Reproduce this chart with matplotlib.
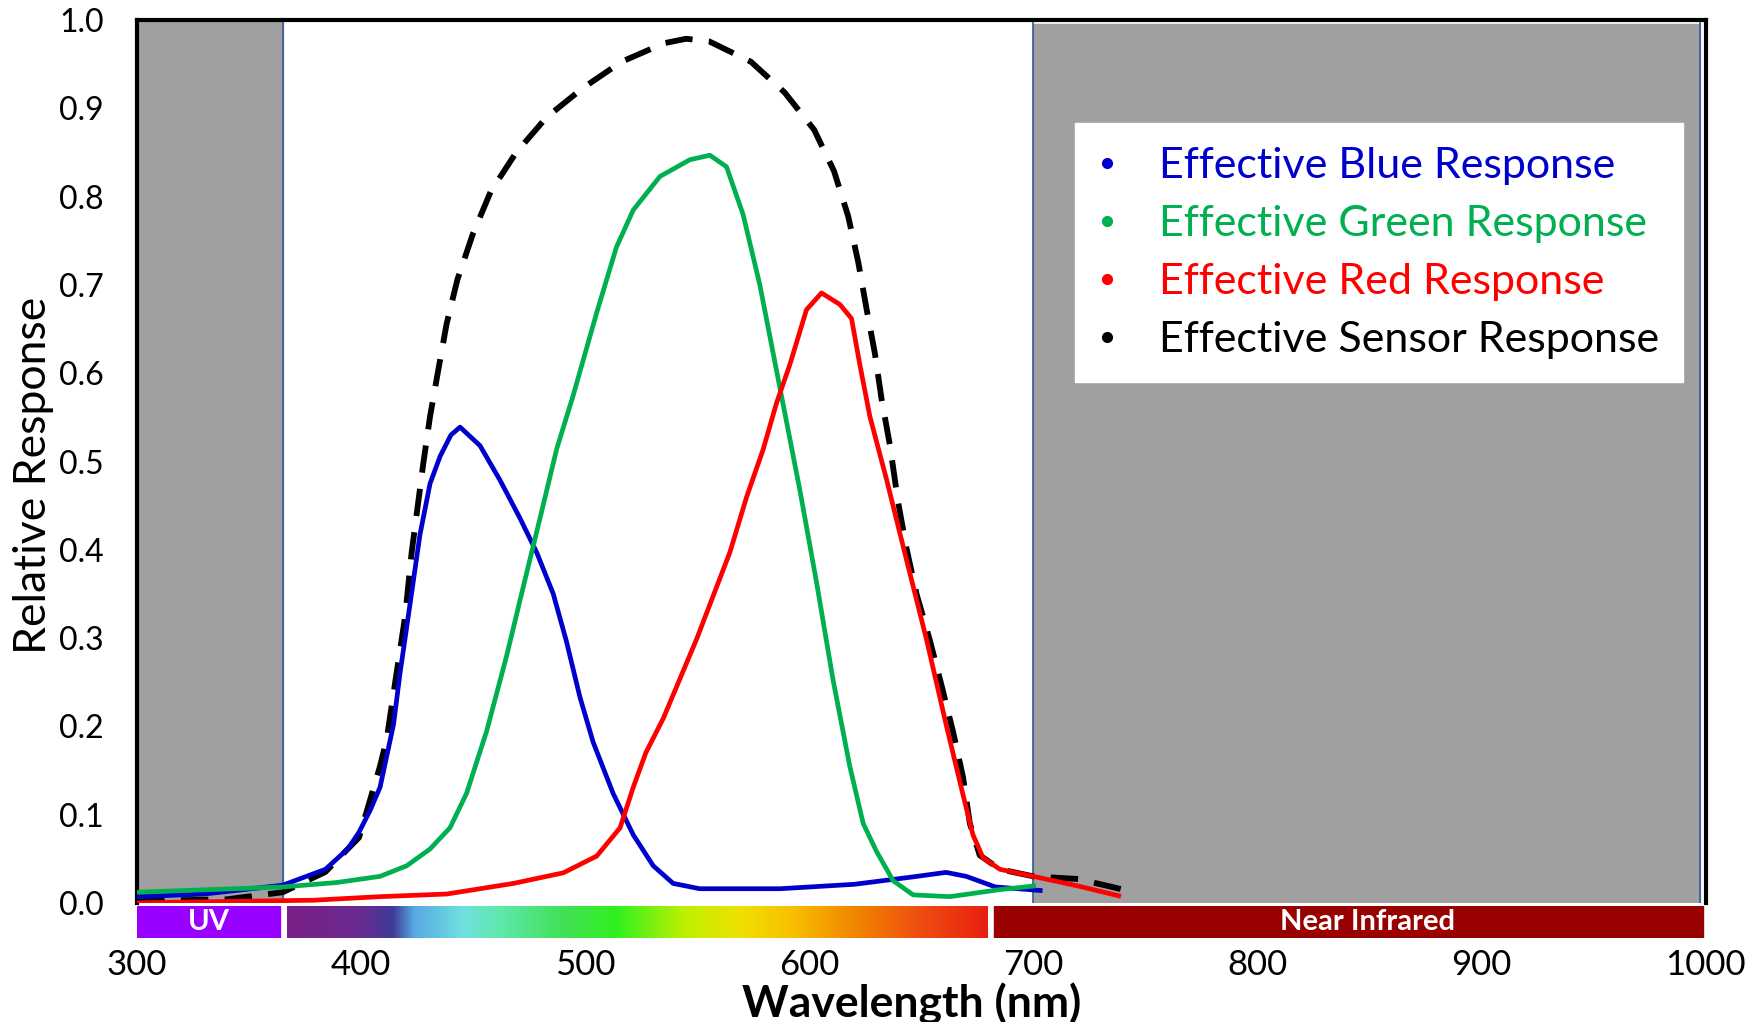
import matplotlib.pyplot as plt
import numpy as np
from matplotlib.colors import LinearSegmentedColormap
from matplotlib.lines import Line2D
from matplotlib.patches import Rectangle

# curves (wavelength nm, relative response)
blue_wl = [300, 330, 365, 384, 394, 399, 404, 408.4, 414.4, 417.3, 421.8, 426.2, 430.7, 435.2,
           440, 444.1, 453, 461.9, 470.8, 478.3, 485.7, 491.6, 497.6, 503.5, 512.4, 521.4,
           530.3, 539.2, 551, 587, 620, 645, 661, 670, 683, 703]
blue_val = [0.007, 0.010, 0.020, 0.038, 0.061, 0.080, 0.105, 0.131, 0.202, 0.260, 0.339, 0.417,
            0.475, 0.506, 0.530, 0.539, 0.518, 0.479, 0.436, 0.397, 0.350, 0.296, 0.233,
            0.182, 0.124, 0.077, 0.042, 0.022, 0.016, 0.016, 0.021, 0.029, 0.0345, 0.030,
            0.018, 0.014]

green_wl = [300, 365, 389, 408.4, 420.3, 430.7, 439.6, 447, 455.9, 464.9, 472.3, 479.8, 487.2,
            494.6, 505, 513.9, 521.4, 533.3, 546.7, 555.6, 563, 570.4, 577.9, 586.8, 595.8,
            603.2, 610.6, 618, 624, 630, 637.4, 646.3, 662.7, 685, 700]
green_val = [0.012, 0.018, 0.023, 0.030, 0.042, 0.061, 0.085, 0.124, 0.194, 0.280, 0.358,
             0.436, 0.514, 0.575, 0.668, 0.743, 0.785, 0.823, 0.842, 0.847, 0.834, 0.780,
             0.700, 0.584, 0.467, 0.363, 0.252, 0.155, 0.090, 0.058, 0.025, 0.009, 0.007,
             0.015, 0.019]

red_wl = [300, 379, 408.4, 438.2, 467.9, 490.2, 505.1, 515.5, 521.4, 527, 534.8, 549.7, 564.5,
          572, 579.4, 585.3, 591.3, 598.7, 605.4, 613.6, 618.8, 622.5, 627, 634.4, 643.3,
          652.3, 661.2, 668.6, 673, 677.5, 685, 700, 720, 738]
red_val = [0.0, 0.003, 0.007, 0.010, 0.022, 0.034, 0.053, 0.085, 0.131, 0.170, 0.209, 0.299,
           0.397, 0.460, 0.514, 0.566, 0.610, 0.672, 0.691, 0.678, 0.662, 0.610, 0.551,
           0.480, 0.389, 0.298, 0.200, 0.122, 0.077, 0.051, 0.038, 0.030, 0.019, 0.008]

sensor_wl = [300, 340, 365, 384, 399, 408.4, 411.4, 415.1, 419.5, 422.5, 427.7, 430.7, 434.4,
             438.1, 442.9, 449.7, 457.8, 469.1, 482.7, 498.8, 516.2, 535.2, 545, 555.3,
             573.9, 589, 602.1, 611, 617.3, 621.8, 625.5, 629.2, 632.2, 635.9, 639.6, 643.3,
             647.8, 653.7, 659, 664.1, 668.6, 671.6, 676, 685, 700, 720, 740]
sensor_val = [0.002, 0.004, 0.012, 0.035, 0.074, 0.155, 0.186, 0.249, 0.323, 0.397, 0.498,
              0.551, 0.604, 0.656, 0.706, 0.757, 0.806, 0.850, 0.890, 0.923, 0.953, 0.974,
              0.979, 0.976, 0.953, 0.918, 0.876, 0.829, 0.778, 0.726, 0.673, 0.623, 0.571,
              0.519, 0.454, 0.402, 0.350, 0.298, 0.246, 0.194, 0.142, 0.090, 0.054, 0.038,
              0.030, 0.027, 0.015]

labels = ['Effective Blue Response', 'Effective Green Response',
          'Effective Red Response', 'Effective Sensor Response']
colors = ['#0000cc', '#00b050', '#ff0000', '#000000']

# spectrum strip
spec_pos = [0, 0.1, 0.15, 0.18, 0.25, 0.3, 0.4, 0.47, 0.57, 0.65, 0.72, 0.82, 0.9, 1.0]
spec_col = ['#7a2088', '#6a2a90', '#403a98', '#58a8e0', '#70e0e0', '#60e8b0', '#40e050',
            '#30f020', '#c0f000', '#f0e000', '#f8c000', '#f08000', '#f05010', '#e82010']

plt.rcParams['font.family'] = ['Lato', 'DejaVu Sans']

fig = plt.figure(figsize=(17.63, 10.22), dpi=100)
ax = fig.add_axes([0.0778, 0.1166, 0.8897, 0.8636])

ax.axvspan(300, 365, color='#a0a0a0', zorder=0)
ax.axvspan(700, 997.5, ymax=0.996, color='#a0a0a0', zorder=0)
for x in [365, 700, 997.5]:
    ax.axvline(x, color='#3a5a9a', lw=1.2, zorder=1)

ax.plot(blue_wl, blue_val, color=colors[0], lw=3.4, zorder=3)
ax.plot(green_wl, green_val, color=colors[1], lw=3.4, zorder=3)
ax.plot(red_wl, red_val, color=colors[2], lw=3.4, zorder=4)
ax.plot(sensor_wl, sensor_val, color=colors[3], lw=4.2, ls=(0, (4.7, 2.8)), zorder=2)

ax.set_xlim(300, 1000)
ax.set_ylim(0, 1)
ax.set_yticks(np.arange(0, 1.01, 0.1))
ax.set_yticklabels([f'{v:.1f}' for v in np.arange(0, 1.01, 0.1)])
ax.tick_params(axis='y', length=0, pad=24, labelsize=23)
ax.tick_params(axis='x', bottom=False, labelbottom=False)
for s in ['left', 'top', 'right']:
    ax.spines[s].set_linewidth(3)
ax.spines['bottom'].set_visible(False)

handles = [Line2D([], [], ls='', marker='o', ms=7, color=c) for c in colors]
leg = ax.legend(handles, labels, loc='upper left', bbox_to_anchor=(0.598, 0.883),
                frameon=True, fancybox=False, framealpha=1, edgecolor='white',
                fontsize=31, handlelength=0.4, handletextpad=1.0, labelspacing=0.46,
                borderpad=0.55, borderaxespad=0)
for t, c in zip(leg.get_texts(), colors):
    t.set_color(c)

# colour strip under the plot
bar = fig.add_axes([0.0778, 0.0825, 0.8897, 0.0308])
bar.set_ylim(0, 1)
cmap = LinearSegmentedColormap.from_list('spec', list(zip(spec_pos, spec_col)))
bar.imshow(np.linspace(0, 1, 256)[None, :], cmap=cmap, aspect='auto',
           extent=[366.7, 679.3, 0, 1])
bar.add_patch(Rectangle((300, 0), 63.7, 1, color='#9900ff'))
bar.add_patch(Rectangle((682.3, 0), 316.6, 1, color='#990000'))
bar.text(332, 0.5, 'UV', color='white', fontweight='bold', fontsize=21,
         ha='center', va='center')
bar.text(849, 0.5, 'Near Infrared', color='white', fontweight='bold', fontsize=21,
         ha='center', va='center')
bar.set_xlim(300, 1000)
bar.set_xticks(range(300, 1001, 100))
bar.set_yticks([])
bar.tick_params(axis='x', length=0, pad=8, labelsize=25)
for s in bar.spines.values():
    s.set_visible(False)

fig.text(0.517, 0.018, 'Wavelength (nm)', fontsize=32, fontweight='bold',
         ha='center', va='center')
fig.text(0.019, 0.535, 'Relative Response', fontsize=32, rotation=90,
         ha='center', va='center')

plt.savefig('out.png', dpi=100)
